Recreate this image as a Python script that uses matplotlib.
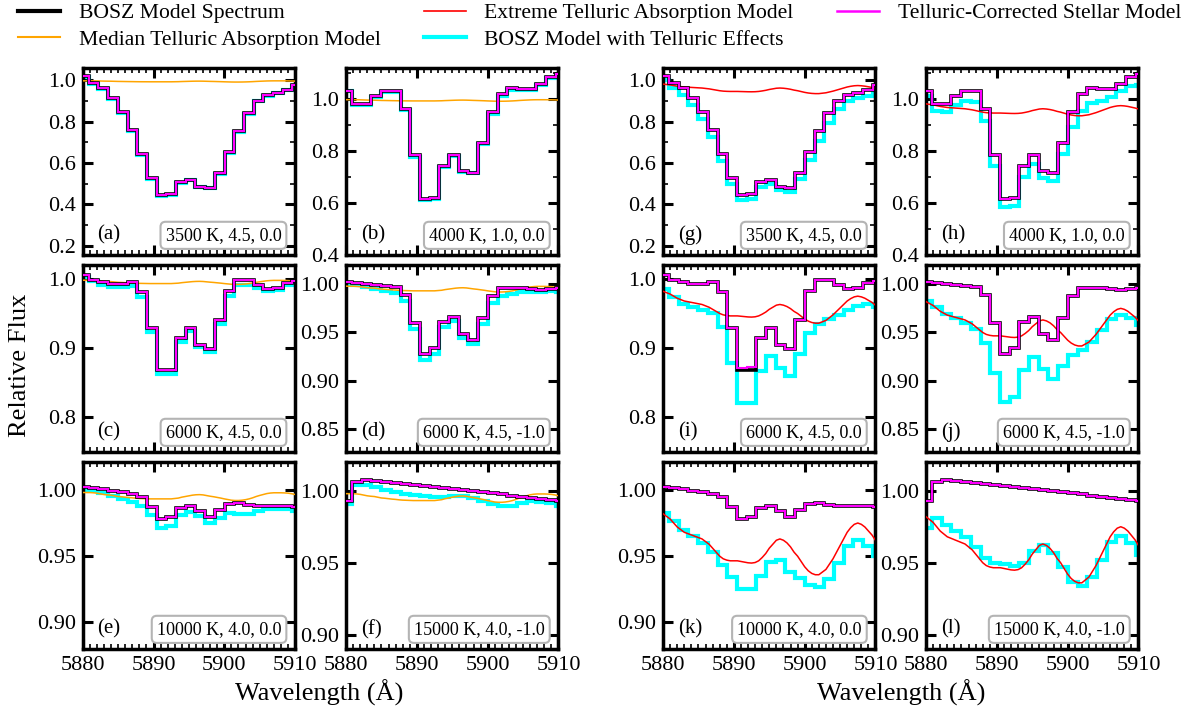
import numpy as np
import matplotlib
matplotlib.use("Agg")
import matplotlib.pyplot as plt
from matplotlib.lines import Line2D
from matplotlib.ticker import MultipleLocator, NullLocator, FormatStrFormatter

plt.rcParams['font.family'] = 'serif'
plt.rcParams['font.serif'] = ['Liberation Serif', 'DejaVu Serif']

# ---------------------------------------------------------------- data
# pixel edges of the binned spectra (Angstrom)
wave_edges = [5879.48, 5880.85, 5882.22, 5883.59, 5884.96, 5886.33, 5887.70, 5889.07,
              5890.44, 5891.81, 5893.18, 5894.55, 5895.92, 5897.29, 5898.66, 5900.03,
              5901.40, 5902.77, 5904.14, 5905.51, 5906.88, 5908.25, 5909.62, 5910.99]

# telluric transmission sampled every 0.5 A from 5880 to 5910
tell_wave = np.arange(5880.0, 5910.01, 0.5)
tell_median = [0.998, 0.998, 0.998, 0.9978, 0.9975, 0.997, 0.9965, 0.9962, 0.996, 0.9955,
               0.995, 0.9948, 0.9945, 0.9942, 0.994, 0.9937, 0.9935, 0.9934, 0.9933, 0.9932,
               0.9932, 0.9932, 0.9932, 0.9932, 0.9932, 0.9932, 0.9935, 0.9938, 0.9945, 0.995,
               0.9955, 0.996, 0.9963, 0.9964, 0.9962, 0.9957, 0.9952, 0.9948, 0.9943, 0.9938,
               0.9932, 0.9927, 0.9922, 0.992, 0.992, 0.9922, 0.9926, 0.9932, 0.994, 0.995,
               0.9958, 0.9965, 0.9972, 0.9976, 0.9978, 0.9978, 0.9978, 0.9977, 0.9975, 0.9971,
               0.9965]
tell_extreme = [0.982, 0.980, 0.978, 0.975, 0.972, 0.970, 0.968, 0.967, 0.966, 0.965,
                0.964, 0.963, 0.961, 0.959, 0.956, 0.953, 0.950, 0.948, 0.947, 0.9465,
                0.9465, 0.9465, 0.946, 0.9455, 0.945, 0.9448, 0.9452, 0.9465, 0.949, 0.952,
                0.956, 0.959, 0.962, 0.963, 0.962, 0.960, 0.957, 0.953, 0.950, 0.946,
                0.942, 0.939, 0.937, 0.936, 0.936, 0.938, 0.940, 0.944, 0.948, 0.953,
                0.958, 0.963, 0.968, 0.9715, 0.974, 0.975, 0.974, 0.972, 0.969, 0.966,
                0.962]

# BOSZ model spectra (Teff, logg, [M/H])
bosz_3500 = [1.020, 0.986, 0.961, 0.915, 0.847, 0.759, 0.644, 0.529, 0.444, 0.449, 0.508, 0.520,
             0.486, 0.480, 0.551, 0.653, 0.754, 0.844, 0.902, 0.929, 0.939, 0.955, 0.978]
bosz_4000 = [1.033, 0.980, 0.980, 1.011, 1.033, 1.033, 0.964, 0.784, 0.617, 0.621, 0.741, 0.784,
             0.724, 0.717, 0.833, 0.951, 1.020, 1.044, 1.040, 1.040, 1.057, 1.084, 1.095]
bosz_6000 = [1.005, 0.9985, 0.995, 0.993, 0.993, 0.995, 0.981, 0.929, 0.868, 0.869, 0.914, 0.929,
             0.905, 0.898, 0.940, 0.982, 0.9985, 0.9985, 0.991, 0.9855, 0.9865, 0.9935, 0.997]
bosz_6000m = [1.002, 1.001, 1.000, 0.999, 0.998, 0.997, 0.989, 0.960, 0.928, 0.934, 0.961, 0.966,
              0.948, 0.942, 0.965, 0.988, 0.996, 0.9965, 0.996, 0.995, 0.9945, 0.995, 0.996]
bosz_10000 = [1.0018, 1.0013, 1.0008, 0.9995, 0.9982, 0.997, 0.9944, 0.9874, 0.9783, 0.9793,
              0.9866, 0.9879, 0.9843, 0.9798, 0.9848, 0.9894, 0.9899, 0.9889, 0.9881, 0.9879,
              0.9879, 0.9876, 0.9874]
bosz_15000 = [0.9928, 1.0063, 1.0073, 1.0068, 1.0061, 1.0054, 1.0046, 1.0039, 1.0032, 1.0025,
              1.0018, 1.0011, 1.0003, 0.9996, 0.9989, 0.9982, 0.9975, 0.9967, 0.9960, 0.9953,
              0.9946, 0.9938, 0.9931]

# telluric-corrected spectrum for the 6000 K extreme case
corr_6000_ext = [1.005, 0.9985, 0.995, 0.993, 0.993, 0.995, 0.981, 0.929, 0.871, 0.872, 0.914,
                 0.929, 0.905, 0.898, 0.940, 0.982, 0.9985, 0.9985, 0.991, 0.9855, 0.9865,
                 0.9935, 0.997]

# BOSZ spectra with the median telluric absorption applied
obs_med_3500 = [1.018, 0.984, 0.958, 0.911, 0.843, 0.754, 0.640, 0.525, 0.441, 0.446, 0.505,
                0.518, 0.484, 0.478, 0.548, 0.648, 0.748, 0.838, 0.898, 0.926, 0.937, 0.953, 0.975]
obs_med_4000 = [1.031, 0.978, 0.977, 1.007, 1.028, 1.027, 0.958, 0.779, 0.613, 0.617, 0.737,
                0.780, 0.721, 0.714, 0.828, 0.944, 1.012, 1.037, 1.035, 1.037, 1.055, 1.081, 1.091]
obs_med_6000 = [1.003, 0.9965, 0.9917, 0.9888, 0.9877, 0.989, 0.9745, 0.9227, 0.8621, 0.8632,
                0.9085, 0.9248, 0.9016, 0.8938, 0.9344, 0.9748, 0.9905, 0.9915, 0.9865, 0.9828,
                0.9843, 0.9911, 0.9935]
obs_med_6000m = [1.000, 0.999, 0.9967, 0.9948, 0.9927, 0.991, 0.9825, 0.9535, 0.9217, 0.9277,
                 0.9552, 0.9617, 0.9444, 0.9376, 0.9592, 0.9808, 0.988, 0.9895, 0.9915, 0.9923,
                 0.9923, 0.9926, 0.9925]
obs_med_10000 = [0.9998, 0.9993, 0.9975, 0.9953, 0.9929, 0.991, 0.9878, 0.9807, 0.9716, 0.9727,
                 0.9807, 0.9835, 0.9806, 0.9752, 0.9789, 0.9822, 0.982, 0.982, 0.9837, 0.9852,
                 0.9857, 0.9852, 0.984]
obs_med_15000 = [0.9908, 1.0043, 1.004, 1.0026, 1.0008, 0.9994, 0.998, 0.9971, 0.9964, 0.9958,
                 0.9958, 0.9966, 0.9965, 0.9949, 0.9929, 0.9909, 0.9895, 0.9897, 0.9915, 0.9926,
                 0.9924, 0.9914, 0.9896]

# BOSZ spectra with the extreme telluric absorption applied
obs_ext_3500 = [1.001, 0.961, 0.931, 0.883, 0.815, 0.726, 0.611, 0.500, 0.420, 0.424, 0.482,
                0.498, 0.468, 0.459, 0.522, 0.613, 0.706, 0.796, 0.862, 0.900, 0.915, 0.926, 0.941]
obs_ext_4000 = [1.013, 0.956, 0.950, 0.976, 0.994, 0.988, 0.915, 0.742, 0.584, 0.587, 0.702,
                0.750, 0.696, 0.686, 0.790, 0.892, 0.955, 0.984, 0.994, 1.008, 1.030, 1.051, 1.053]
obs_ext_6000 = [0.986, 0.9735, 0.964, 0.9587, 0.9553, 0.9512, 0.931, 0.8788, 0.8211, 0.8212,
                0.8665, 0.889, 0.8706, 0.8594, 0.8911, 0.9211, 0.9346, 0.9416, 0.9474, 0.955,
                0.9609, 0.9637, 0.9591]
obs_ext_6000m = [0.983, 0.976, 0.969, 0.9645, 0.960, 0.9531, 0.9386, 0.9082, 0.8779, 0.8826,
                 0.911, 0.9245, 0.912, 0.9015, 0.9148, 0.9267, 0.9323, 0.9397, 0.9522, 0.9642,
                 0.9686, 0.9652, 0.9582]
obs_ext_10000 = [0.9828, 0.9763, 0.9698, 0.965, 0.9603, 0.9531, 0.9437, 0.9341, 0.9255, 0.9254,
                 0.9353, 0.9454, 0.9469, 0.9377, 0.9336, 0.9281, 0.9265, 0.9325, 0.9446, 0.9573,
                 0.9622, 0.958, 0.9499]
obs_ext_15000 = [0.9739, 0.9811, 0.9761, 0.9721, 0.9679, 0.9612, 0.9534, 0.9497, 0.949, 0.9474,
                 0.9497, 0.9581, 0.9623, 0.9566, 0.947, 0.9363, 0.9337, 0.9399, 0.9522, 0.9644,
                 0.9687, 0.964, 0.9554]

model_labels = ['3500 K, 4.5, 0.0', '4000 K, 1.0, 0.0', '6000 K, 4.5, 0.0',
                '6000 K, 4.5, -1.0', '10000 K, 4.0, 0.0', '15000 K, 4.0, -1.0']
models = [bosz_3500, bosz_4000, bosz_6000, bosz_6000m, bosz_10000, bosz_15000]
obs_median = [obs_med_3500, obs_med_4000, obs_med_6000, obs_med_6000m, obs_med_10000, obs_med_15000]
obs_extreme = [obs_ext_3500, obs_ext_4000, obs_ext_6000, obs_ext_6000m, obs_ext_10000, obs_ext_15000]
corr_median = [bosz_3500, bosz_4000, bosz_6000, bosz_6000m, bosz_10000, bosz_15000]
corr_extreme = [bosz_3500, bosz_4000, corr_6000_ext, bosz_6000m, bosz_10000, bosz_15000]
letters_median = ['(a)', '(b)', '(c)', '(d)', '(e)', '(f)']
letters_extreme = ['(g)', '(h)', '(i)', '(j)', '(k)', '(l)']

# ---------------------------------------------------------------- styling
C_BOSZ, C_CORR, C_OBS = 'black', '#ff00ff', '#00ffff'
C_MED, C_EXT = '#ffa500', '#ff0000'
LW_BOSZ, LW_CORR, LW_OBS, LW_TELL = 2.6, 1.5, 3.0, 1.1

# y-axis settings for each model: limits, major step, minor step, format
yaxis_cfg = [((0.155, 1.06), 0.2, 0.1, '%.1f'),
             ((0.40, 1.12), 0.2, 0.1, '%.1f'),
             ((0.75, 1.02), 0.1, None, '%.1f'),
             ((0.826, 1.02), 0.05, None, '%.2f'),
             ((0.88, 1.021), 0.05, None, '%.2f'),
             ((0.89, 1.02), 0.05, None, '%.2f')]

fig = plt.figure(figsize=(11.9, 7.12), dpi=100)
col_left = [0.0695, 0.2908, 0.5572, 0.7782]
col_w = 0.1785
row_bottom = [0.6419, 0.3652, 0.0885]
row_h = 0.2626

for row in range(3):
    for col in range(4):
        m = row * 2 + (col % 2)
        extreme = col >= 2
        ax = fig.add_axes([col_left[col], row_bottom[row], col_w, row_h])
        obs = obs_extreme[m] if extreme else obs_median[m]
        corr = corr_extreme[m] if extreme else corr_median[m]
        tell = tell_extreme if extreme else tell_median
        tcol = C_EXT if extreme else C_MED

        ax.stairs(obs, wave_edges, baseline=None, color=C_OBS, lw=LW_OBS, zorder=2)
        ax.plot(tell_wave, tell, color=tcol, lw=LW_TELL, zorder=3)
        ax.stairs(models[m], wave_edges, baseline=None, color=C_BOSZ, lw=LW_BOSZ, zorder=4)
        ax.stairs(corr, wave_edges, baseline=None, color=C_CORR, lw=LW_CORR, zorder=5)

        ylim, major, minor, fmt = yaxis_cfg[m]
        ax.set_xlim(5880, 5910)
        ax.set_ylim(*ylim)
        ax.xaxis.set_major_locator(MultipleLocator(10))
        ax.xaxis.set_minor_locator(MultipleLocator(1))
        ax.yaxis.set_major_locator(MultipleLocator(major))
        if minor:
            ax.yaxis.set_minor_locator(MultipleLocator(minor))
        else:
            ax.yaxis.set_minor_locator(NullLocator())
        ax.yaxis.set_major_formatter(FormatStrFormatter(fmt))
        ax.tick_params(which='both', direction='in', top=True, right=True, labelsize=16)
        ax.tick_params(which='major', length=7, width=2.2, pad=5)
        ax.tick_params(which='minor', length=3.5, width=1.2)
        for sp in ax.spines.values():
            sp.set_linewidth(2.5)
        if row < 2:
            ax.tick_params(labelbottom=False)

        letter = letters_extreme[m] if extreme else letters_median[m]
        ax.text(0.07, 0.105, letter, transform=ax.transAxes, ha='left', va='center',
                fontsize=15)
        ax.text(0.935, 0.105, model_labels[m], transform=ax.transAxes, ha='right',
                va='center', fontsize=13, zorder=6,
                bbox=dict(boxstyle='round,pad=0.28', fc='white', ec='#b4b4b4', lw=1.5))

fig.text(0.017, 0.487, 'Relative Flux', rotation=90, ha='center', va='center', fontsize=19)
fig.text(0.268, 0.027, 'Wavelength (Å)', ha='center', va='center', fontsize=19)
fig.text(0.757, 0.027, 'Wavelength (Å)', ha='center', va='center', fontsize=19)

handles = [Line2D([], [], color=C_BOSZ, lw=3.0),
           Line2D([], [], color=C_MED, lw=1.5),
           Line2D([], [], color=C_EXT, lw=1.2),
           Line2D([], [], color=C_OBS, lw=3.0),
           Line2D([], [], color=C_CORR, lw=1.8)]
labels = ['BOSZ Model Spectrum', 'Median Telluric Absorption Model',
          'Extreme Telluric Absorption Model', 'BOSZ Model with Telluric Effects',
          'Telluric-Corrected Stellar Model']
fig.legend(handles, labels, ncol=3, loc='upper left', bbox_to_anchor=(-0.0013, 1.023),
           frameon=False, fontsize=15.6, handlelength=1.95, handletextpad=0.85,
           columnspacing=2.0, labelspacing=0.3)

fig.savefig('out.png', dpi=100)
